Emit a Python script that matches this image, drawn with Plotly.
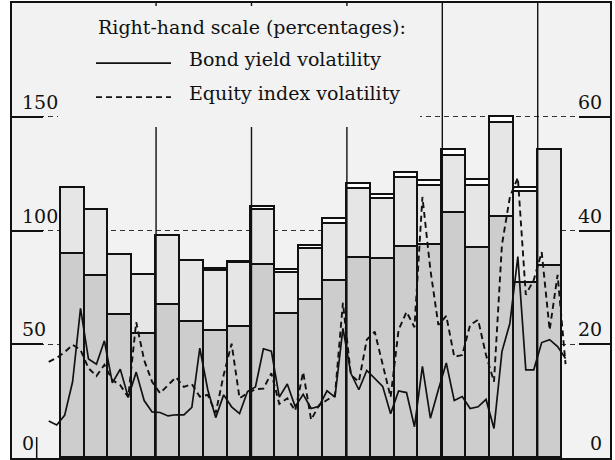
import plotly.graph_objects as go

# ---- data (left scale: bars; right scale: lines, percentages) ----
quarters = list(range(21))
bar_dark = [89.8, 79.9, 62.9, 54.4, 67.1, 59.8, 55.7, 57.6, 84.7, 63.3, 69.6,
            78.0, 88.1, 87.6, 92.9, 93.8, 107.6, 92.5, 106.0, 77.1, 84.4]
bar_light = [29.1, 29.1, 26.2, 26.1, 30.7, 27.0, 26.5, 28.0, 24.3, 18.0, 22.3,
             24.8, 30.3, 26.3, 30.1, 25.7, 25.1, 27.0, 41.2, 39.9, 50.8]
bar_white = [0, 0, 0, 0, 0, 0, 1.0, 0.7, 1.5, 1.5, 1.2,
             2.4, 2.1, 1.8, 2.2, 2.2, 2.9, 2.5, 2.5, 1.7, 0]

bond_vol = [6.5, 5.8, 7.5, 13.4, 26.3, 17.4, 16.5, 20.6, 13.2, 15.6, 10.7, 15.1, 10.1, 8.1, 8.0, 7.4, 7.6,
            7.6, 8.9, 19.3, 12.0, 7.1, 11.1, 9.0, 7.8, 11.7, 12.5, 19.2, 18.8, 10.7, 13.0, 9.0, 11.2, 8.7,
            9.1, 11.8, 10.7, 22.8, 14.9, 12.0, 15.4, 14.0, 12.6, 7.8, 11.8, 11.5, 5.5, 16.1, 7.0, 12.0, 16.7,
            10.1, 10.8, 8.7, 9.0, 10.3, 5.2, 18.7, 23.7, 35.4, 15.5, 15.5, 20.3, 20.8, 19.6, 17.5]
equity_vol = [16.9, 17.6, 18.6, 19.9, 19.0, 15.8, 14.4, 16.4, 13.7, 12.8, 10.7, 23.9, 17.2, 13.4, 11.4, 12.8, 14.2,
              12.5, 13.0, 10.8, 11.1, 7.9, 14.6, 20.1, 10.5, 11.4, 12.1, 12.2, 14.9, 9.5, 10.5, 8.3, 15.1, 6.7,
              9.3, 10.2, 11.1, 27.3, 14.6, 13.4, 20.8, 22.2, 16.4, 10.7, 22.5, 25.7, 23.0, 45.9, 33.1, 23.4, 25.0,
              17.8, 18.1, 23.4, 24.3, 18.1, 13.4, 37.5, 45.9, 49.3, 28.7, 31.3, 36.2, 22.5, 32.2, 16.5]

left_ticks = [0, 50, 100, 150]
left_labels = ["0", "50", "100", "150"]
right_ticks = [0, 20, 40, 60]
right_labels = ["0", "20", "40", "60"]

legend_title = "Right-hand scale (percentages):"
bond_name = "Bond yield volatility"
equity_name = "Equity index volatility"

# monthly positions expressed in quarter units (3 months per bar)
months = [-1 + k / 3 for k in range(len(bond_vol))]
separators = [q + 0.5 for q in quarters if q % 4 == 3]

FONT = "DejaVu Serif"
BG = "#f2f2f2"

fig = go.Figure()
line_style = dict(color="#111111", width=1.8)
for vals, col in [(bar_dark, "#cdcdcd"), (bar_light, "#e6e6e6"), (bar_white, "#ffffff")]:
    fig.add_trace(go.Bar(x=quarters, y=vals, width=1, marker=dict(color=col, line=line_style),
                         showlegend=False, hoverinfo="skip"))

fig.add_trace(go.Scatter(x=months, y=bond_vol, mode="lines", yaxis="y2",
                         line=dict(color="#111111", width=1.7), showlegend=False))
fig.add_trace(go.Scatter(x=months, y=equity_vol, mode="lines", yaxis="y2",
                         line=dict(color="#111111", width=1.9, dash="6px,4px"), showlegend=False))

shapes = []
for s in separators:
    shapes.append(dict(type="line", xref="x", yref="paper", x0=s, x1=s, y0=0, y1=1,
                       line=dict(color="#111111", width=1.4), layer="above"))
# legend box
shapes.append(dict(type="rect", xref="paper", yref="paper", x0=0.0769, x1=0.6823, y0=0.7275, y1=0.9934,
                   fillcolor=BG, line=dict(width=0), layer="above"))
shapes.append(dict(type="line", xref="paper", yref="paper", x0=0.1405, x1=0.2659, y0=0.868, y1=0.868,
                   line=dict(color="#111111", width=1.7), layer="above"))
shapes.append(dict(type="line", xref="paper", yref="paper", x0=0.1405, x1=0.2659, y0=0.793, y1=0.793,
                   line=dict(color="#111111", width=1.7, dash="6px,4px"), layer="above"))
# small mark beside the left zero label
shapes.append(dict(type="line", xref="paper", yref="paper", x0=0.0413, x1=0.0413, y0=0, y1=0.046,
                   line=dict(color="#111111", width=1.5), layer="above"))

annotations = []
tf = dict(family=FONT, size=19, color="#111111")
for v, t in zip(left_ticks, left_labels):
    annotations.append(dict(text=t, xref="paper", yref="y", x=0, y=v, xanchor="left", yanchor="bottom",
                            xshift=8, yshift=2, showarrow=False, font=tf))
for v, t in zip(right_ticks, right_labels):
    annotations.append(dict(text=t, xref="paper", yref="y2", x=1, y=v, xanchor="right", yanchor="bottom",
                            xshift=-6, yshift=2, showarrow=False, font=tf))
annotations.append(dict(text=legend_title, xref="paper", yref="paper", x=0.1405, y=0.947,
                        xanchor="left", yanchor="middle", showarrow=False, font=tf))
annotations.append(dict(text=bond_name, xref="paper", yref="paper", x=0.2926, y=0.877,
                        xanchor="left", yanchor="middle", showarrow=False, font=tf))
annotations.append(dict(text=equity_name, xref="paper", yref="paper", x=0.2926, y=0.802,
                        xanchor="left", yanchor="middle", showarrow=False, font=tf))

fig.update_layout(
    width=615, height=460,
    margin=dict(l=12, r=5, t=3, b=2),
    paper_bgcolor="#ffffff", plot_bgcolor=BG,
    barmode="stack", bargap=0,
    font=dict(family=FONT, size=19, color="#111111"),
    xaxis=dict(range=[-2.54, 22.53], showline=True, mirror=True, linecolor="#111111", linewidth=1.5,
               showgrid=False, zeroline=False, showticklabels=False, ticks=""),
    yaxis=dict(range=[0, 200], showline=True, mirror=True, linecolor="#111111", linewidth=1.5,
               tickvals=left_ticks, ticks="inside", ticklen=31, tickwidth=1.5, tickcolor="#111111",
               showticklabels=False, showgrid=True, gridcolor="#333333", gridwidth=1,
               griddash="5px,4px", zeroline=False),
    yaxis2=dict(range=[0, 80], overlaying="y", side="right", showline=False,
                tickvals=right_ticks, ticks="inside", ticklen=31, tickwidth=1.5, tickcolor="#111111",
                showticklabels=False, showgrid=False, zeroline=False),
    shapes=shapes, annotations=annotations,
)

fig.write_html("out.html", config={"displayModeBar": False},
               post_script="document.body.style.margin='0';document.body.style.padding='0';")
